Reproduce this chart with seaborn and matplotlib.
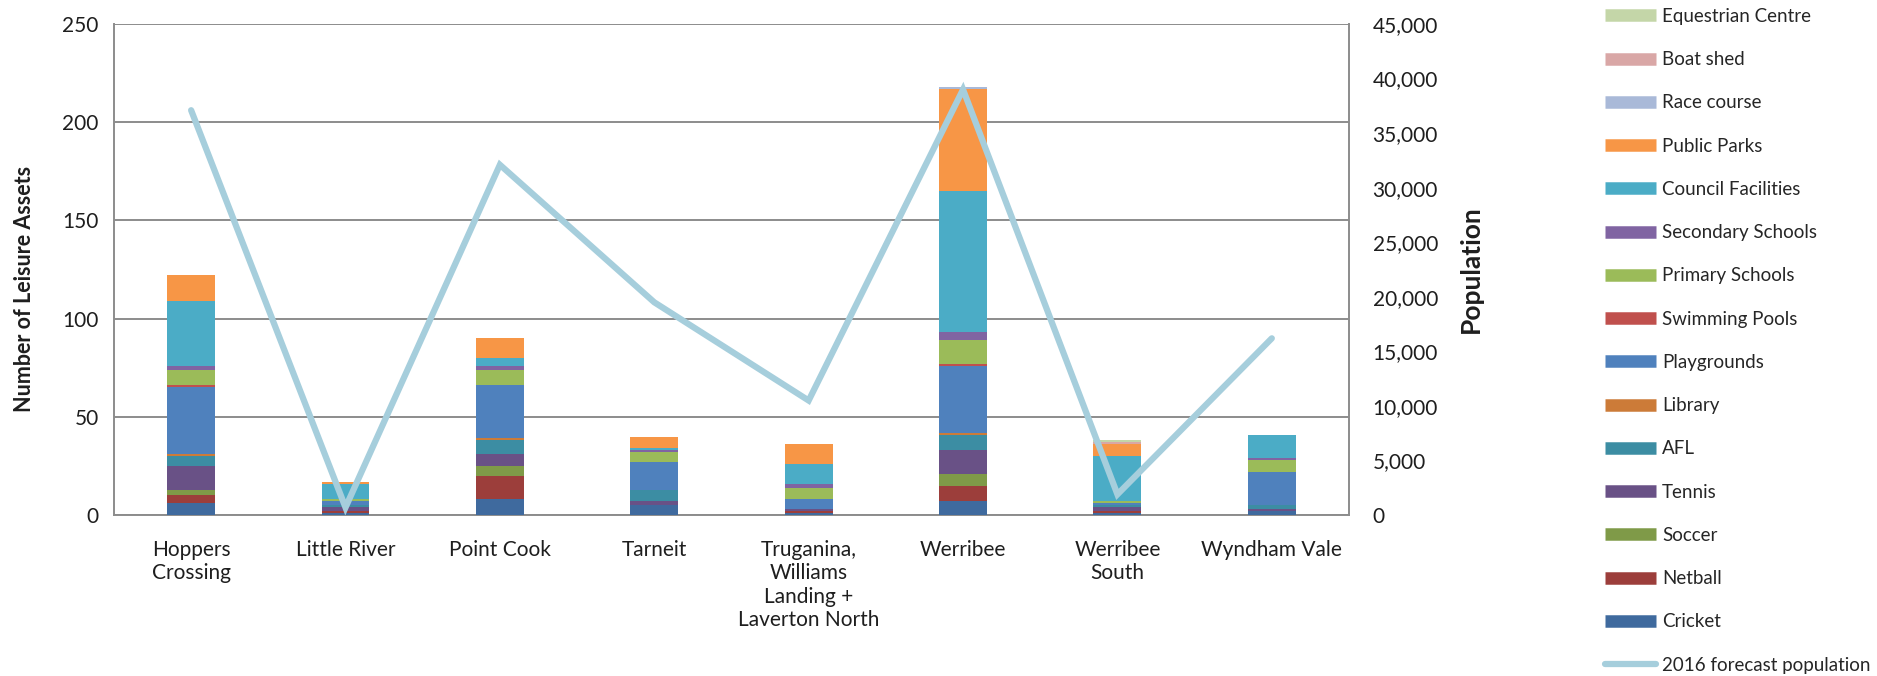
import numpy as np
import pandas as pd
import matplotlib
matplotlib.use("Agg")
import matplotlib.pyplot as plt
from matplotlib.lines import Line2D
from matplotlib.ticker import FuncFormatter, MultipleLocator
import seaborn as sns

suburbs = ["Hoppers\nCrossing", "Little River", "Point Cook", "Tarneit",
           "Truganina,\nWilliams\nLanding +\nLaverton North", "Werribee",
           "Werribee\nSouth", "Wyndham Vale"]

cricket = [6, 1, 8, 5, 1, 7, 1, 2]
netball = [4, 1, 12, 0, 1, 8, 1, 0]
soccer = [3, 0, 5, 0, 0, 6, 0, 0]
tennis = [12, 2, 6, 2, 1, 12, 2, 1]
afl = [5, 1, 7, 6, 0, 8, 1, 2]
library = [1, 0, 1, 0, 0, 1, 0, 0]
playgrounds = [34, 2, 27, 14, 5, 34, 1, 17]
swimming_pools = [1, 0, 0, 0, 0, 1, 0, 0]
primary_schools = [8, 1, 8, 5, 6, 12, 1, 6]
secondary_schools = [2, 0, 2, 1, 2, 4, 0, 1]
council_facilities = [33, 8, 4, 1, 10, 72, 23, 12]
public_parks = [13, 1, 10, 6, 10, 52, 6, 0]
race_course = [0, 0, 0, 0, 0, 1, 0, 0]
boat_shed = [0, 0, 0, 0, 0, 0, 1, 0]
equestrian_centre = [0, 0, 0, 0, 0, 0, 1, 0]

population_2016 = [37100, 700, 32100, 19500, 10500, 39000, 1900, 16200]

# stacking order, bottom to top
series = [
    ("Cricket", cricket, "#3F6A9E"),
    ("Netball", netball, "#9C3E3B"),
    ("Soccer", soccer, "#7F9A48"),
    ("Tennis", tennis, "#695186"),
    ("AFL", afl, "#3C8DA3"),
    ("Library", library, "#CC7B38"),
    ("Playgrounds", playgrounds, "#4F81BD"),
    ("Swimming Pools", swimming_pools, "#C0504D"),
    ("Primary Schools", primary_schools, "#9BBB59"),
    ("Secondary Schools", secondary_schools, "#8064A2"),
    ("Council Facilities", council_facilities, "#4BACC6"),
    ("Public Parks", public_parks, "#F79646"),
    ("Race course", race_course, "#A9B9D8"),
    ("Boat shed", boat_shed, "#D9A7A6"),
    ("Equestrian Centre", equestrian_centre, "#C4D6A8"),
]
line_color = "#A6CEDC"

sns.set_theme(style="white")
plt.rcParams["font.family"] = ["Lato", "DejaVu Sans"]

fig = plt.figure(figsize=(18.77, 6.76), dpi=100)
ax = fig.add_axes([0.0607, 0.238, 0.658, 0.7265])

df = pd.DataFrame({"suburb": suburbs})
bottom = np.zeros(len(suburbs))
for name, vals, col in series:
    df["v"] = vals
    sns.barplot(data=df, x="suburb", y="v", color=col, width=0.31,
                bottom=bottom, ax=ax, linewidth=0, saturation=1,
                errorbar=None, zorder=3)
    bottom = bottom + np.array(vals)

grid_col = "#8C8C8C"
text_col = "#1E1E1E"
ax.set_ylim(0, 250)
ax.set_xlim(-0.5, len(suburbs) - 0.5)
ax.yaxis.set_major_locator(MultipleLocator(50))
ax.grid(axis="y", color=grid_col, linewidth=1.4, zorder=0)
ax.set_xlabel("")
ax.set_ylabel("Number of Leisure Assets", fontsize=15.5, fontweight="bold",
              color=text_col)
ax.yaxis.set_label_coords(-0.064, 0.46)
ax.tick_params(axis="both", labelsize=15, colors=text_col, length=0)
ax.tick_params(axis="x", pad=18)
ax.tick_params(axis="y", pad=11)
for s in ["left", "right", "bottom"]:
    ax.spines[s].set_color(grid_col)
    ax.spines[s].set_linewidth(1.4)
ax.spines["top"].set_visible(False)

ax2 = ax.twinx()
pop_df = pd.DataFrame({"pos": np.arange(len(suburbs)), "pop": population_2016})
sns.lineplot(data=pop_df, x="pos", y="pop", color=line_color, linewidth=4.5,
             ax=ax2, zorder=5, solid_joinstyle="miter")
ax2.set_ylim(0, 45000)
ax2.yaxis.set_major_locator(MultipleLocator(5000))
ax2.yaxis.set_major_formatter(FuncFormatter(lambda v, p: f"{int(v):,}"))
ax2.tick_params(axis="y", labelsize=15, colors=text_col, length=0, pad=17)
ax2.set_ylabel("Population", fontsize=19, fontweight="bold", labelpad=15,
               color=text_col)
ax2.set_xlabel("")
for s in ax2.spines.values():
    s.set_visible(False)
ax2.grid(False)

handles = [Line2D([], [], color=col, linewidth=9, solid_capstyle="butt")
           for _, _, col in series[::-1]]
labels = [name for name, _, _ in series[::-1]]
handles.append(Line2D([], [], color=line_color, linewidth=4.5,
                      solid_capstyle="round"))
labels.append("2016 forecast population")
fig.legend(handles, labels, loc="upper left", bbox_to_anchor=(0.849, 1.005),
           frameon=False, fontsize=13.5, handlelength=2.75, handletextpad=0.3,
           labelspacing=1.40, borderaxespad=0.2)

fig.savefig("out.png", dpi=100)
